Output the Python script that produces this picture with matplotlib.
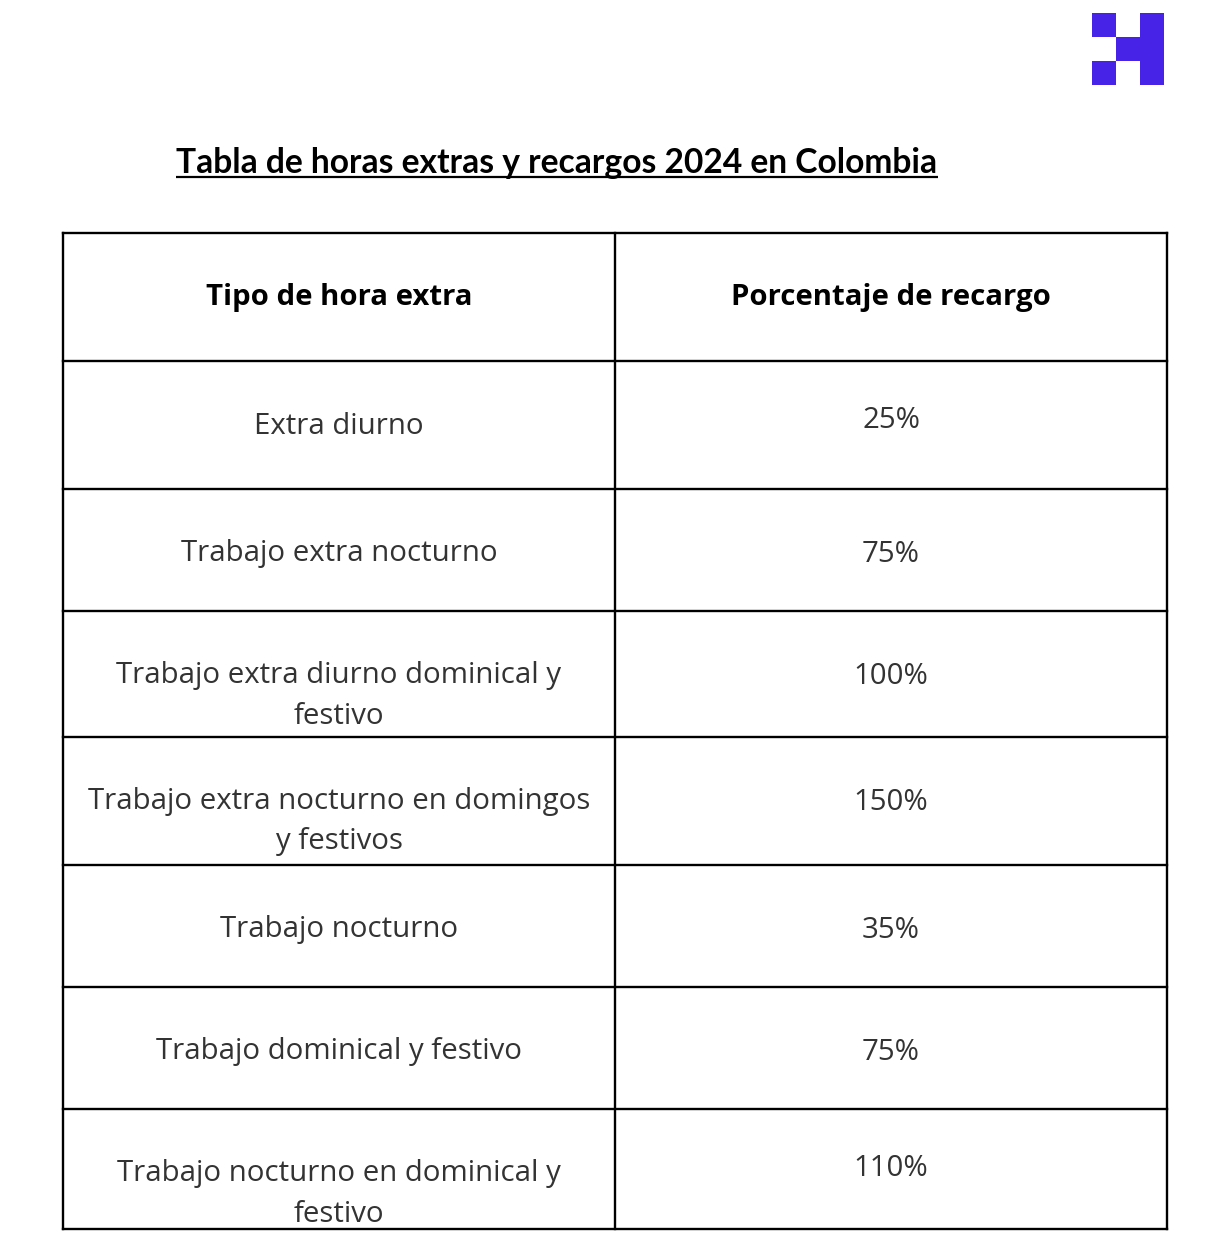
import matplotlib
matplotlib.use("Agg")
import matplotlib.pyplot as plt
from matplotlib.patches import Rectangle

# ---- data ----
title = "Tabla de horas extras y recargos 2024 en Colombia"
headers = ["Tipo de hora extra", "Porcentaje de recargo"]
tipos = [
    ["Extra diurno"],
    ["Trabajo extra nocturno"],
    ["Trabajo extra diurno dominical y", "festivo"],
    ["Trabajo extra nocturno en domingos", "y festivos"],
    ["Trabajo nocturno"],
    ["Trabajo dominical y festivo"],
    ["Trabajo nocturno en dominical y", "festivo"],
]
recargos = ["25%", "75%", "100%", "150%", "35%", "75%", "110%"]

# ---- layout ----
W, H = 1222, 1246
col_x = [63, 615, 1167]
row_y = [233, 361, 489, 611, 737, 865, 987, 1109, 1229]
# vertical offset (px) of first text line from cell middle, per row: (left, right)
row_off = [(1, -5), (4, 4), (2, 2), (1, 1), (4, 4), (4, 4), (5, -1)]
line_gap = 40
FS = 21.2

fig = plt.figure(figsize=(W / 100, H / 100), dpi=100)
ax = fig.add_axes([0, 0, 1, 1])
ax.set_xlim(0, W)
ax.set_ylim(H, 0)
ax.axis("off")

# logo
logo_c = "#4723E8"
s = 24
lx, ly = 1092, 13
for (dx, dy, w, h) in [(0, 0, 1, 1), (1, 1, 1, 1), (0, 2, 1, 1), (2, 0, 1, 3)]:
    ax.add_patch(Rectangle((lx + dx * s, ly + dy * s), w * s, h * s,
                           facecolor=logo_c, edgecolor="none"))

# title
t = ax.text(557, 163, title, ha="center", va="center", fontsize=24.2,
            fontweight="bold", family="Lato", color="black")
fig.canvas.draw()
bb = t.get_window_extent(renderer=fig.canvas.get_renderer())
inv = ax.transData.inverted()
(x0, _), (x1, _) = inv.transform([[bb.x0, bb.y0], [bb.x1, bb.y0]])
ax.plot([x0, x1], [177, 177], color="black", lw=1.6, solid_capstyle="butt")

# grid
lw = 1.7
for y in row_y:
    ax.plot([col_x[0], col_x[-1]], [y, y], color="black", lw=lw, solid_capstyle="projecting")
for x in col_x:
    ax.plot([x, x], [row_y[0], row_y[-1]], color="black", lw=lw, solid_capstyle="projecting")

cx = [(col_x[0] + col_x[1]) / 2, (col_x[1] + col_x[2]) / 2]

# headers
for i, hd in enumerate(headers):
    ax.text(cx[i], (row_y[0] + row_y[1]) / 2 + 1, hd, ha="center", va="center",
            fontsize=FS, fontweight="bold", family="Open Sans", color="black")

# body
body_c = "#333333"
for r, (tp, rc) in enumerate(zip(tipos, recargos)):
    top, bot = row_y[r + 1], row_y[r + 2]
    mid = (top + bot) / 2
    offl, offr = row_off[r]
    for k, line in enumerate(tp):
        ax.text(cx[0], mid + offl + k * line_gap, line, ha="center", va="center",
                fontsize=FS, family="Open Sans", color=body_c)
    ax.text(cx[1], mid + offr, rc, ha="center", va="center", fontsize=FS,
            family="Open Sans", color=body_c)

fig.savefig("out.png", dpi=100)
